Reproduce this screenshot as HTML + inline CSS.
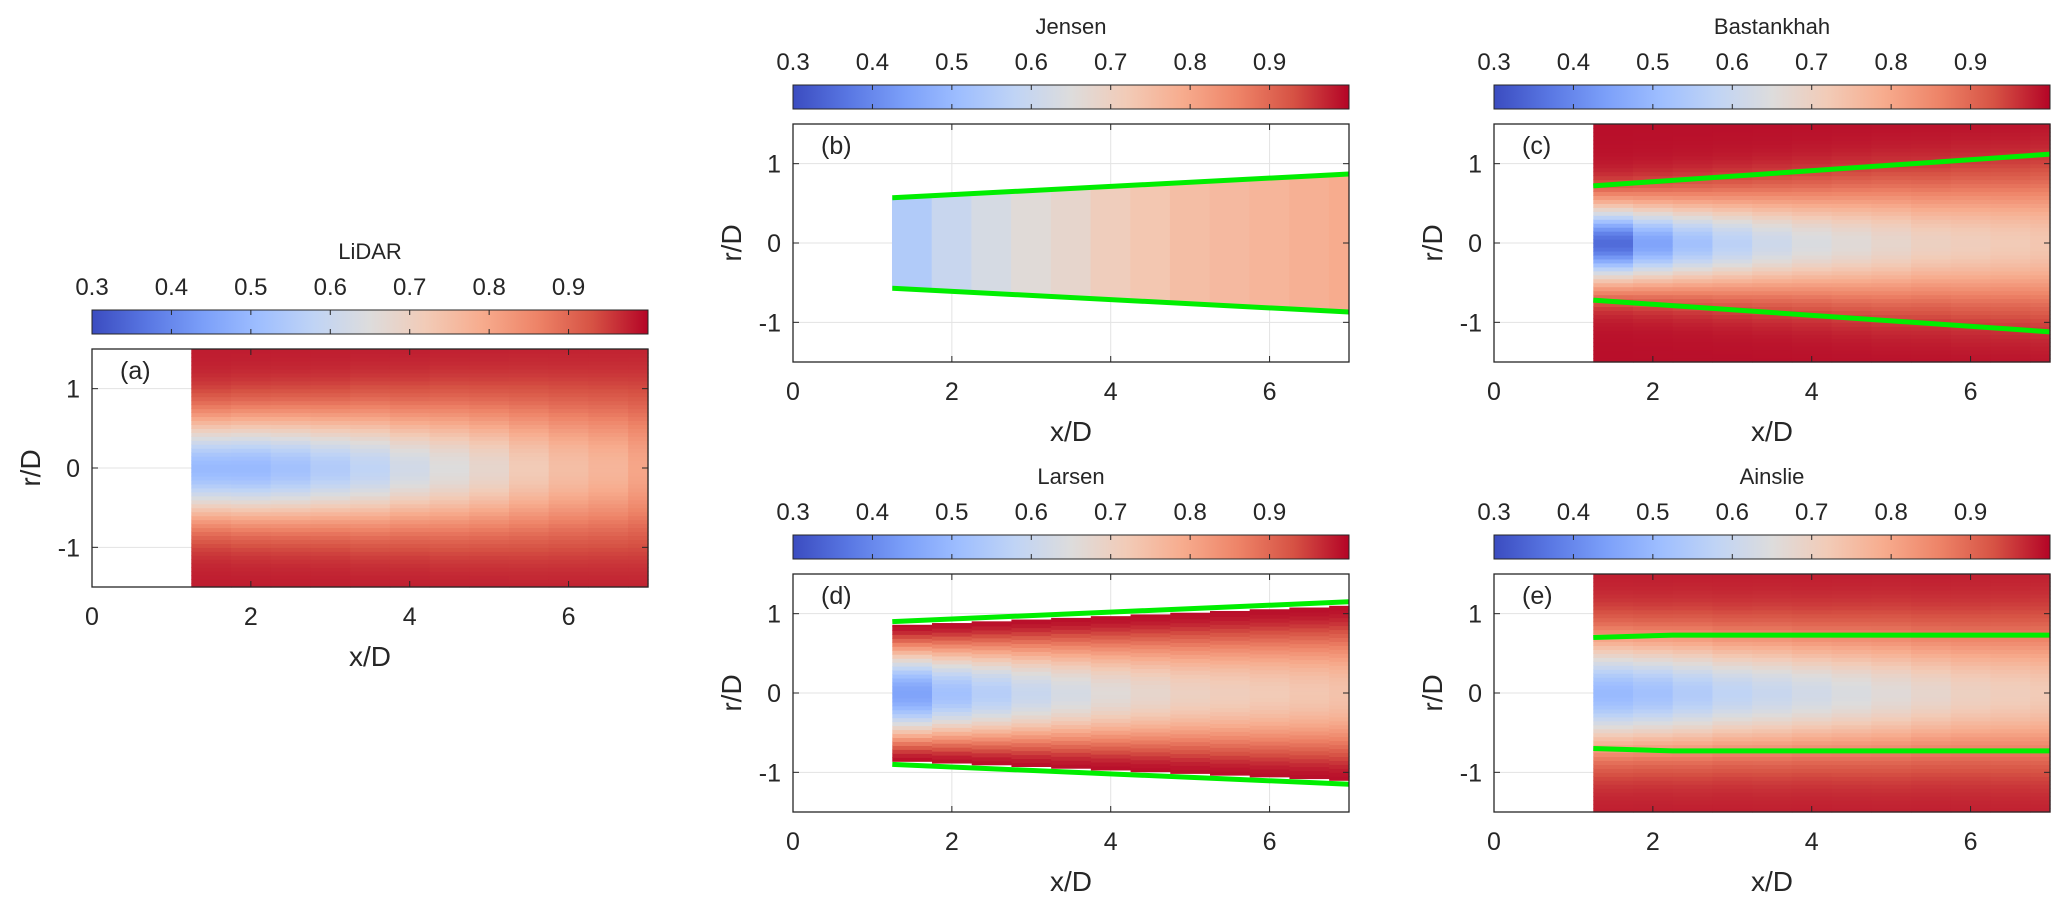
<!DOCTYPE html>
<html><head><meta charset="utf-8">
<style>
html,body{margin:0;padding:0;background:#fff;}
svg{display:block;}
text{font-family:"Liberation Sans",Arial,sans-serif;fill:#262626;}
</style></head>
<body>
<svg id="fig" width="2067" height="908" viewBox="0 0 2067 908" xmlns="http://www.w3.org/2000/svg">
<defs>
<linearGradient id="cw" x1="0" x2="1" y1="0" y2="0">
<stop offset="0" stop-color="#3b4cc0"/><stop offset="0.1" stop-color="#5977e3"/>
<stop offset="0.2" stop-color="#7b9ff9"/><stop offset="0.3" stop-color="#9ebeff"/>
<stop offset="0.4" stop-color="#c0d4f5"/><stop offset="0.5" stop-color="#dddcdc"/>
<stop offset="0.6" stop-color="#f2cbb7"/><stop offset="0.7" stop-color="#f7ac8e"/>
<stop offset="0.8" stop-color="#ee8468"/><stop offset="0.9" stop-color="#d65244"/>
<stop offset="1" stop-color="#b40426"/>
</linearGradient>
</defs>
</svg>
<script>
// ---- data ----
const xCenters = [1.5,2,2.5,3,3.5,4,4.5,5,5.5,6,6.5,7];
const cbTicks = [0.3,0.4,0.5,0.6,0.7,0.8,0.9];
const xTicks = [0,2,4,6];
const yTicks = [1,0,-1];
const lidarCenter = [0.50,0.50,0.52,0.55,0.58,0.62,0.65,0.68,0.72,0.75,0.77,0.80];
const lidarSigma  = [0.45,0.46,0.47,0.48,0.50,0.51,0.53,0.54,0.56,0.57,0.58,0.60];
const jensenValue = [0.55,0.60,0.63,0.66,0.68,0.71,0.73,0.75,0.76,0.77,0.78,0.79];
const jensenRadius = [0.57,0.87];
const bastCenter = [0.35,0.45,0.52,0.57,0.61,0.64,0.66,0.68,0.70,0.71,0.72,0.73];
const bastSigma  = [0.35,0.37,0.39,0.41,0.43,0.45,0.47,0.49,0.50,0.52,0.53,0.55];
const bastLine = [0.72,1.12];
const larsenCenter = [0.45,0.52,0.56,0.60,0.63,0.66,0.68,0.70,0.71,0.72,0.73,0.74];
const larsenRadius = [0.90,1.15];
const ainslieCenter = [0.50,0.52,0.55,0.58,0.60,0.62,0.64,0.66,0.68,0.70,0.71,0.72];
const ainslieSigma  = [0.48,0.48,0.49,0.49,0.50,0.50,0.51,0.52,0.52,0.53,0.54,0.55];
const ainslieLineX = [1.25,2.25,7];
const ainslieLineR = [0.70,0.73,0.73];

const NS='http://www.w3.org/2000/svg';
const svg=document.getElementById('fig');
const stops=[[59,76,192],[89,119,227],[123,159,249],[158,190,255],[192,212,245],[221,220,220],[242,203,183],[247,172,142],[238,132,104],[214,82,68],[180,4,38]];
function cmap(v){let t=(v-0.3)/0.7;t=Math.max(0,Math.min(1,t))*10;const i=Math.min(9,Math.floor(t)),f=t-i;const a=stops[i],b=stops[i+1];
return 'rgb('+a.map((c,k)=>Math.round(c+(b[k]-c)*f)).join(',')+')';}
function el(tag,attrs,parent){const e=document.createElementNS(NS,tag);for(const k in attrs)e.setAttribute(k,attrs[k]);(parent||svg).appendChild(e);return e;}

function panel(id,L,T,title,letter,fill,lines){
  const W=556,H=238,R=L+W,B=T+H;
  const sx=x=>L+x/7*W, sy=r=>T+(1.5-r)/3*H;
  const g=el('g',{});
  
  
  const tt=el('text',{x:L+W/2,y:T-90,'font-size':22,'text-anchor':'middle'},g);tt.textContent=title;
  
  const cb=el('rect',{x:L,y:T-39,width:W,height:24,fill:'url(#cw)',stroke:'#262626','stroke-width':1},g);
  
  cbTicks.forEach(v=>{const x=L+(v-0.3)/0.7*W;
    if(v>0.3){el('line',{x1:x,x2:x,y1:T-39,y2:T-34,stroke:'#262626'},g);el('line',{x1:x,x2:x,y1:T-15,y2:T-20,stroke:'#262626'},g);}
    const t=el('text',{x:x,y:T-54,'font-size':24,'text-anchor':'middle'},g);t.textContent=v.toFixed(1);
    });
  xTicks.forEach(v=>{if(v>0)el('line',{x1:sx(v),x2:sx(v),y1:T,y2:B,stroke:'#e3e3e3'},g);});
  yTicks.forEach(v=>el('line',{x1:L,x2:R,y1:sy(v),y2:sy(v),stroke:'#e3e3e3'},g));
  const hm=el('g',{},g);
  fill(hm,sx,sy);
  if(lines)lines(g,sx,sy);
  const ax=el('rect',{x:L,y:T,width:W,height:H,fill:'none',stroke:'#262626','stroke-width':1.3},g);
  
  xTicks.forEach(v=>{const x=sx(v);if(v>0){el('line',{x1:x,x2:x,y1:B,y2:B-6,stroke:'#262626'},g);el('line',{x1:x,x2:x,y1:T,y2:T+6,stroke:'#262626'},g);}
    const t=el('text',{x:x,y:B+38,'font-size':25,'text-anchor':'middle'},g);t.textContent=v;
    });
  yTicks.forEach(v=>{const y=sy(v);el('line',{x1:L,x2:L+6,y1:y,y2:y,stroke:'#262626'},g);el('line',{x1:R,x2:R-6,y1:y,y2:y,stroke:'#262626'},g);
    const t=el('text',{x:L-12,y:y+9,'font-size':25,'text-anchor':'end'},g);t.textContent=v;
    });
  const xl=el('text',{x:L+W/2,y:B+79,'font-size':28,'text-anchor':'middle'},g);xl.textContent='x/D';
  
  const yl=el('text',{x:0,y:0,'font-size':28,'text-anchor':'middle',transform:'translate('+(L-52)+','+(T+H/2)+') rotate(-90)'},g);yl.textContent='r/D';
  
  const lt=el('text',{x:L+28,y:T+30,'font-size':25},g);lt.textContent=letter;
  
}
const dr=0.05;
function gaussFill(center,sigma,inf){return (g,sx,sy)=>{
  xCenters.forEach((xc,i)=>{const x0=Math.max(1.25,xc-0.25),x1=Math.min(7,xc+0.25);
    const rm=1.5;
    for(let r=-rm;r<rm-1e-9;r+=dr){const rc=r+dr/2;const r2=Math.min(rm,r+dr);
      const v=inf-(inf-center[i])*Math.exp(-(rc*rc)/(2*sigma[i]*sigma[i]));
      const c=el('rect',{x:sx(x0),y:sy(r2),width:sx(x1)-sx(x0)+0.6,height:sy(r)-sy(r2)+0.6,fill:cmap(v)},g);
      }
  });}}
function greenLine(g,sx,sy,xs,rs,sign){const pts=xs.map((x,k)=>sx(x)+','+sy(sign*rs[k])).join(' ');
  const p=el('polyline',{points:pts,fill:'none',stroke:'#00ee00','stroke-width':5},g);
  }

panel('lidar',92,349,'LiDAR','(a)',gaussFill(lidarCenter,lidarSigma,0.98),null);

const jR=x=>jensenRadius[0]+(jensenRadius[1]-jensenRadius[0])*(x-1.25)/5.75;
panel('jensen',793,124,'Jensen','(b)',(g,sx,sy)=>{
  xCenters.forEach((xc,i)=>{const x0=Math.max(1.25,xc-0.25),x1=Math.min(7,xc+0.25);
    const pts=[[x0,jR(x0)],[x1,jR(x1)],[x1,-jR(x1)],[x0,-jR(x0)]].map(p=>sx(p[0])+','+sy(p[1])).join(' ');
    const c=el('polygon',{points:pts,fill:cmap(jensenValue[i]),stroke:cmap(jensenValue[i]),'stroke-width':0.6},g);
    });
},(g,sx,sy)=>{greenLine(g,sx,sy,[1.25,7],jensenRadius,1);greenLine(g,sx,sy,[1.25,7],jensenRadius,-1);});

panel('bastankhah',1494,124,'Bastankhah','(c)',gaussFill(bastCenter,bastSigma,0.99),
 (g,sx,sy)=>{greenLine(g,sx,sy,[1.25,7],bastLine,1);greenLine(g,sx,sy,[1.25,7],bastLine,-1);});

const lR=x=>larsenRadius[0]+(larsenRadius[1]-larsenRadius[0])*(x-1.25)/5.75;
panel('larsen',793,574,'Larsen','(d)',(g,sx,sy)=>{
  xCenters.forEach((xc,i)=>{const x0=Math.max(1.25,xc-0.25),x1=Math.min(7,xc+0.25);const rm=lR(x0)-0.04;
    for(let r=-rm;r<rm-1e-9;r+=dr){const rc=r+dr/2,r2=Math.min(rm,r+dr);const q=Math.min(1,Math.abs(rc)/rm);
      const v=0.99-(0.99-larsenCenter[i])*Math.pow(1-q*q,2);
      const c=el('rect',{x:sx(x0),y:sy(r2),width:sx(x1)-sx(x0)+0.6,height:sy(r)-sy(r2)+0.6,fill:cmap(v)},g);
      }});
},(g,sx,sy)=>{greenLine(g,sx,sy,[1.25,7],larsenRadius,1);greenLine(g,sx,sy,[1.25,7],larsenRadius,-1);});

panel('ainslie',1494,574,'Ainslie','(e)',gaussFill(ainslieCenter,ainslieSigma,0.98),
 (g,sx,sy)=>{greenLine(g,sx,sy,ainslieLineX,ainslieLineR,1);greenLine(g,sx,sy,ainslieLineX,ainslieLineR,-1);});
</script>
</body></html>
